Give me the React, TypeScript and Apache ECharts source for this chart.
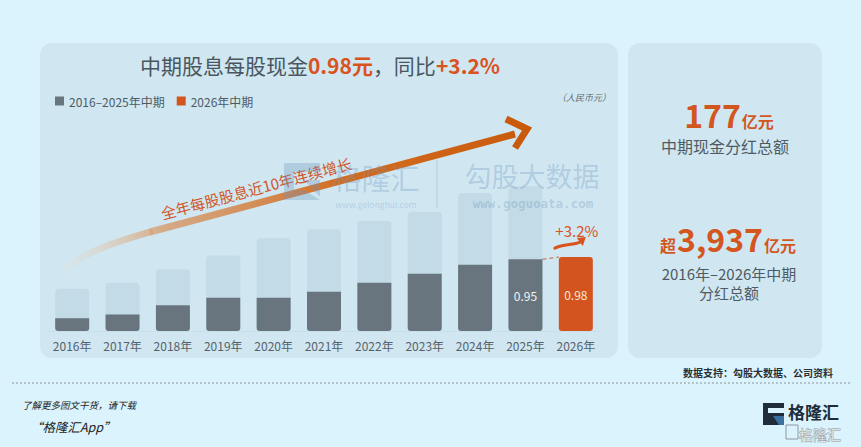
import React, { useEffect, useRef } from "react";
import * as echarts from "echarts";

const categories = ["2016年", "2017年", "2018年", "2019年", "2020年", "2021年", "2022年", "2023年", "2024年", "2025年", "2026年"];
// interim dividend per share 2016-2025 (RMB)
const interimValues = [0.17, 0.22, 0.34, 0.44, 0.44, 0.52, 0.64, 0.76, 0.88, 0.95];
// 2026 interim dividend per share
const interim2026 = 0.98;
// full-year dividend per share 2016-2025 (background bars)
const fullYearValues = [0.56, 0.64, 0.82, 1.0, 1.23, 1.35, 1.46, 1.58, 1.83, 1.92];
const legendNames = ["2016–2025年中期", "2026年中期"];

const FONT = "'Noto Sans CJK SC', 'Noto Sans', sans-serif";
const BG = "#daf3fc";
const PANEL = "#d0e7f1";
const LIGHT = "#c2dbe6";
const DARK = "#68757e";
const ORANGE = "#d3541f";
const GRAY_TEXT = "#4f5b64";
const ORANGE_TEXT = "#d4561f";

export default function App() {
  const ref = useRef<HTMLDivElement>(null);
  useEffect(() => {
    document.body.style.margin = "0";
    if (!ref.current) return;
    const chart = echarts.init(ref.current, null, { renderer: "svg" });
    const n = categories.length;
    const fullData = [...fullYearValues, ...Array(n - fullYearValues.length).fill("-")];
    const darkData: any[] = interimValues.map((v, i) =>
      i === interimValues.length - 1
        ? { value: v, label: { show: true, position: "inside", color: "#eef3f6", fontSize: 12, formatter: "{c}" } }
        : v
    );
    while (darkData.length < n) darkData.push("-");
    const orangeData: any[] = Array(n - 1).fill("-");
    orangeData.push({ value: interim2026, label: { show: true, position: "inside", color: "#f6e6de", fontSize: 12, formatter: "{c}" } });

    chart.setOption({
      animation: false,
      backgroundColor: BG,
      textStyle: { fontFamily: FONT },
      grid: { left: 47, right: 260, top: 150, bottom: 116 },
      legend: {
        data: legendNames,
        left: 50,
        top: 90,
        icon: "rect",
        itemWidth: 9,
        itemHeight: 9,
        itemGap: 12,
        selectedMode: false,
        textStyle: { fontSize: 12, color: GRAY_TEXT, fontFamily: FONT },
      },
      xAxis: {
        type: "category",
        data: categories,
        axisTick: { show: false },
        axisLine: { show: true, lineStyle: { color: "#c6dfe9", width: 1 } },
        axisLabel: { color: "#56626b", fontSize: 12, margin: 8, fontFamily: FONT },
      },
      yAxis: { type: "value", min: 0, max: 2.4, show: false, splitLine: { show: false } },
      series: [
        {
          name: "全年每股股息",
          type: "bar",
          data: fullData,
          barWidth: 34,
          barGap: "-100%",
          silent: true,
          z: 1,
          itemStyle: { color: LIGHT, borderRadius: [4, 4, 3, 3] },
        },
        {
          name: legendNames[0],
          type: "bar",
          data: darkData,
          barWidth: 34,
          barGap: "-100%",
          z: 2,
          itemStyle: { color: DARK, borderRadius: [0, 0, 3, 3] },
        },
        {
          name: legendNames[1],
          type: "bar",
          data: orangeData,
          barWidth: 34,
          barGap: "-100%",
          z: 2,
          itemStyle: { color: ORANGE, borderRadius: [3, 3, 3, 3] },
        },
      ],
    });

    const p25 = chart.convertToPixel({ gridIndex: 0 }, [categories[9], interimValues[9]]) as number[];
    const p26 = chart.convertToPixel({ gridIndex: 0 }, [categories[10], interim2026]) as number[];
    const half = 17;

    const arrowGradient = {
      type: "linear",
      x: 64,
      y: 272,
      x2: 527,
      y2: 129,
      global: true,
      colorStops: [
        { offset: 0, color: "rgba(235,220,205,0.15)" },
        { offset: 0.22, color: "rgba(214,150,100,0.75)" },
        { offset: 0.6, color: "#d36d22" },
        { offset: 1, color: "#c95a0c" },
      ],
    };

    const wm = "rgba(110,150,190,0.32)";
    const graphic: any[] = [
      // panels
      { type: "rect", z: -10, silent: true, shape: { x: 40, y: 43, width: 578, height: 315, r: 12 }, style: { fill: PANEL } },
      { type: "rect", z: -10, silent: true, shape: { x: 628, y: 43, width: 194, height: 315, r: 12 }, style: { fill: PANEL } },
      // title
      {
        type: "text",
        z: 20,
        x: 320,
        y: 65,
        style: {
          text: "{a|中期股息每股现金}{b|0.98元}{a|，同比}{b|+3.2%}",
          align: "center",
          verticalAlign: "middle",
          rich: {
            a: { fontSize: 21, fill: "#4a5660", fontFamily: FONT },
            b: { fontSize: 21, fill: "#d9531e", fontWeight: "bold", fontFamily: FONT },
          },
        },
      },
      {
        type: "text",
        z: 20,
        x: 611,
        y: 97,
        style: { text: "（人民币元）", align: "right", verticalAlign: "middle", fontSize: 9, fontStyle: "italic", fill: "#5f6a72", fontFamily: FONT },
      },
      // big growth arrow
      {
        type: "bezierCurve",
        z: 5,
        silent: true,
        shape: { x1: 64, y1: 272, cpx1: 78, cpy1: 254, cpx2: 115, cpy2: 242, x2: 150, y2: 232 },
        style: { fill: "none", lineWidth: 7, lineCap: "round", stroke: arrowGradient },
      },
      {
        type: "line",
        z: 5,
        silent: true,
        shape: { x1: 150, y1: 232, x2: 515, y2: 134 },
        style: { lineWidth: 7, stroke: arrowGradient },
      },
      {
        type: "polyline",
        z: 5,
        silent: true,
        shape: { points: [[506, 119], [527, 129], [515, 148]] },
        style: { fill: "none", stroke: "#c95a0c", lineWidth: 7, lineJoin: "miter" },
      },
      {
        type: "text",
        z: 6,
        x: 256,
        y: 188,
        rotation: (15 * Math.PI) / 180,
        style: { text: "全年每股股息近10年连续增长", align: "center", verticalAlign: "middle", fontSize: 15, fill: "#d0562a", fontFamily: FONT },
      },
      // watermarks
      { type: "polygon", z: 10, silent: true, shape: { points: [[284, 163], [320, 163], [320, 172], [294, 172], [294, 190], [304, 190], [320, 200], [284, 200]] }, style: { fill: wm } },
      { type: "polygon", z: 10, silent: true, shape: { points: [[304, 180], [320, 180], [320, 197]] }, style: { fill: wm } },
      { type: "text", z: 10, silent: true, x: 376, y: 177, style: { text: "格隆汇", align: "center", verticalAlign: "middle", fontSize: 29, fill: wm, fontFamily: FONT } },
      { type: "text", z: 10, silent: true, x: 376, y: 204, style: { text: "www.gelonghui.com", align: "center", verticalAlign: "middle", fontSize: 8.5, fill: wm, fontFamily: FONT } },
      { type: "line", z: 10, silent: true, shape: { x1: 437, y1: 160, x2: 437, y2: 208 }, style: { stroke: wm, lineWidth: 1 } },
      { type: "text", z: 10, silent: true, x: 532, y: 175, style: { text: "勾股大数据", align: "center", verticalAlign: "middle", fontSize: 27, fill: wm, fontFamily: FONT } },
      { type: "text", z: 10, silent: true, x: 533, y: 203, style: { text: "www.goguoata.com", align: "center", verticalAlign: "middle", fontSize: 12.5, fontWeight: "bold", fill: wm, fontFamily: "'DejaVu Sans Mono', monospace" } },
      // connector between 2025 and 2026
      {
        type: "line",
        z: 8,
        silent: true,
        shape: { x1: p25[0] + half, y1: p25[1], x2: p26[0] - half, y2: p26[1] },
        style: { stroke: "#c8906f", lineWidth: 1.5, lineDash: [4, 3] },
      },
      {
        type: "text",
        z: 8,
        x: p26[0] + 1,
        y: p26[1] - 27,
        style: { text: "+3.2%", align: "center", verticalAlign: "middle", fontSize: 15, fill: "#d9531e", fontFamily: FONT },
      },
      {
        type: "bezierCurve",
        z: 8,
        silent: true,
        shape: { x1: p26[0] - 21, y1: p26[1] - 9, cpx1: p26[0] - 12, cpy1: p26[1] - 13, cpx2: p26[0] - 2, cpy2: p26[1] - 12, x2: p26[0] + 4, y2: p26[1] - 15 },
        style: { fill: "none", stroke: "#d9531e", lineWidth: 3, lineCap: "round" },
      },
      {
        type: "polygon",
        z: 8,
        silent: true,
        shape: { points: [[p26[0] + 1, p26[1] - 19], [p26[0] + 10, p26[1] - 20], [p26[0] + 7, p26[1] - 11]] },
        style: { fill: "#d9531e" },
      },
      // right panel
      {
        type: "text",
        z: 20,
        x: 729,
        y: 115,
        style: {
          text: "{n|177}{u|亿元}",
          align: "center",
          verticalAlign: "middle",
          rich: {
            n: { fontSize: 32, fontWeight: "bold", fill: ORANGE_TEXT, fontFamily: FONT, verticalAlign: "bottom", lineHeight: 30 },
            u: { fontSize: 16, fontWeight: "bold", fill: ORANGE_TEXT, fontFamily: FONT, verticalAlign: "bottom", lineHeight: 20, padding: [0, 0, 1, 1] },
          },
        },
      },
      { type: "text", z: 20, x: 725, y: 146, style: { text: "中期现金分红总额", align: "center", verticalAlign: "middle", fontSize: 16, fill: GRAY_TEXT, fontFamily: FONT } },
      {
        type: "text",
        z: 20,
        x: 728,
        y: 239,
        style: {
          text: "{u|超}{n|3,937}{u|亿元}",
          align: "center",
          verticalAlign: "middle",
          rich: {
            n: { fontSize: 32, fontWeight: "bold", fill: ORANGE_TEXT, fontFamily: FONT, verticalAlign: "bottom", lineHeight: 30 },
            u: { fontSize: 16, fontWeight: "bold", fill: ORANGE_TEXT, fontFamily: FONT, verticalAlign: "bottom", lineHeight: 20, padding: [0, 1, 1, 1] },
          },
        },
      },
      { type: "text", z: 20, x: 729, y: 273, style: { text: "2016年–2026年中期", align: "center", verticalAlign: "middle", fontSize: 15, fill: GRAY_TEXT, fontFamily: FONT } },
      { type: "text", z: 20, x: 729, y: 292, style: { text: "分红总额", align: "center", verticalAlign: "middle", fontSize: 15, fill: GRAY_TEXT, fontFamily: FONT } },
      // footer
      { type: "text", z: 20, x: 833, y: 372, style: { text: "数据支持：勾股大数据、公司资料", align: "right", verticalAlign: "middle", fontSize: 10, fontWeight: "bold", fill: "#2b2f33", fontFamily: FONT } },
      { type: "line", z: 20, silent: true, shape: { x1: 12, y1: 383, x2: 850, y2: 383 }, style: { stroke: "#8a9399", lineWidth: 1, lineDash: [2, 2] } },
      { type: "text", z: 20, x: 22, y: 405, style: { text: "了解更多图文干货，请下载", align: "left", verticalAlign: "middle", fontSize: 9.5, fontStyle: "italic", fill: "#222", fontFamily: FONT } },
      { type: "text", z: 20, x: 30, y: 426, style: { text: "“格隆汇App”", align: "left", verticalAlign: "middle", fontSize: 12.5, fontStyle: "italic", fill: "#222", fontFamily: FONT } },
      // logo
      { type: "rect", z: 20, silent: true, shape: { x: 763, y: 403, width: 21, height: 22 }, style: { fill: "#1f2c3a" } },
      { type: "rect", z: 21, silent: true, shape: { x: 768, y: 408, width: 16, height: 5 }, style: { fill: BG } },
      { type: "polygon", z: 21, silent: true, shape: { points: [[773, 416], [784, 416], [784, 425], [779, 425]] }, style: { fill: "#3b6f9c" } },
      { type: "text", z: 20, x: 788, y: 411, style: { text: "格隆汇", align: "left", verticalAlign: "middle", fontSize: 17, fontWeight: "bold", fill: "#1f2c3a", fontFamily: FONT } },
      { type: "rect", z: 20, silent: true, shape: { x: 786, y: 425, width: 12, height: 14 }, style: { fill: "none", stroke: "#8e98a1", lineWidth: 1 } },
      { type: "text", z: 20, x: 799, y: 433.5, style: { text: "格隆汇", align: "left", verticalAlign: "middle", fontSize: 14, fill: "rgba(255,255,255,0.7)", stroke: "#8e98a1", lineWidth: 0.8, fontFamily: FONT } },
    ];
    chart.setOption({ graphic });
    return () => chart.dispose();
  }, []);
  return <div ref={ref} style={{ width: 861, height: 447, overflow: "hidden" }} />;
}
